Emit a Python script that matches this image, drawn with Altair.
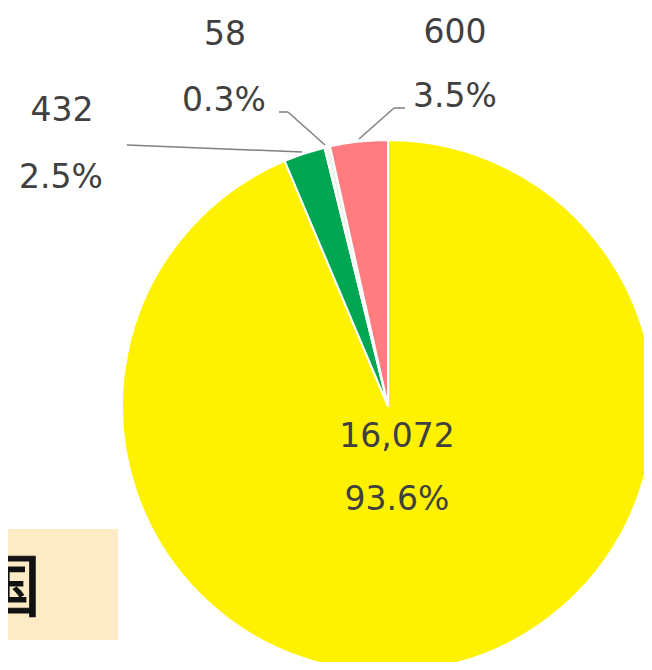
import altair as alt
import pandas as pd

# ---- data ----
categories = ["区分A", "区分B", "区分C", "区分D"]
values = [16072, 432, 58, 600]
colors = ["#FFF200", "#00A651", "#ECF6EE", "#FF7C80"]
box_text = "国"

total = sum(values)
df = pd.DataFrame({
    "cat": categories,
    "value": values,
    "order": list(range(len(values))),
})
df["num"] = df["value"].map("{:,}".format)
df["pct"] = (df["value"] / total * 100).map("{:.1f}%".format)

CX, CY, R = 380, 398, 266
one = pd.DataFrame({"z": [0]})

outline = alt.Chart(one).mark_arc(
    radius=R + 1, fill="transparent", stroke="#D6D6EA", strokeWidth=1.5
).encode(theta=alt.Theta("z:Q"), x=alt.value(CX), y=alt.value(CY)).transform_calculate(z="1")

pie = alt.Chart(df).mark_arc(radius=R, stroke="white", strokeWidth=2).encode(
    theta=alt.Theta("value:Q", stack=True),
    color=alt.Color("cat:N", scale=alt.Scale(domain=categories, range=colors), legend=None),
    order=alt.Order("order:Q"),
    x=alt.value(CX),
    y=alt.value(CY),
)

box = alt.Chart(one).mark_rect(color="#FDEBC6").encode(
    x=alt.value(0), x2=alt.value(110), y=alt.value(521), y2=alt.value(632)
)
box_label = alt.Chart(one).mark_text(
    text=box_text, font="Noto Sans CJK JP", fontSize=68, fontWeight="normal",
    align="right", baseline="middle", color="#111111",
    stroke="#111111", strokeWidth=1.2
).encode(x=alt.value(33), y=alt.value(583))

# label annotations: (category, field, x, y)
label_pos = [
    ("区分A", "num", 389, 429), ("区分A", "pct", 389, 492),
    ("区分B", "num", 54, 103), ("区分B", "pct", 53, 170),
    ("区分C", "num", 217, 27), ("区分C", "pct", 216, 93),
    ("区分D", "num", 447, 25), ("区分D", "pct", 447, 89),
]
labels = []
for cat, field, lx, ly in label_pos:
    labels.append(
        alt.Chart(df).transform_filter(alt.datum.cat == cat).mark_text(
            font="DejaVu Sans", fontSize=33, color="#404040",
            align="center", baseline="middle"
        ).encode(text=alt.Text(f"{field}:N"), x=alt.value(lx), y=alt.value(ly))
    )

segments = [
    (119, 137, 294, 144),
    (271, 104, 280, 104), (280, 104, 317, 137),
    (397, 100, 386, 100), (386, 100, 351, 131),
]
rules = []
for x1, y1, x2, y2 in segments:
    rules.append(
        alt.Chart(one).mark_rule(color="#7F7F7F", strokeWidth=1.5).encode(
            x=alt.value(x1), y=alt.value(y1), x2=alt.value(x2), y2=alt.value(y2)
        )
    )

chart = alt.layer(outline, pie, box, box_label, *rules, *labels).properties(
    width=636, height=654,
    autosize=alt.AutoSizeParams(type="none"),
    padding=0,
).configure_view(stroke=None)

chart.save("out.html", embed_options={"renderer": "svg", "actions": False})
